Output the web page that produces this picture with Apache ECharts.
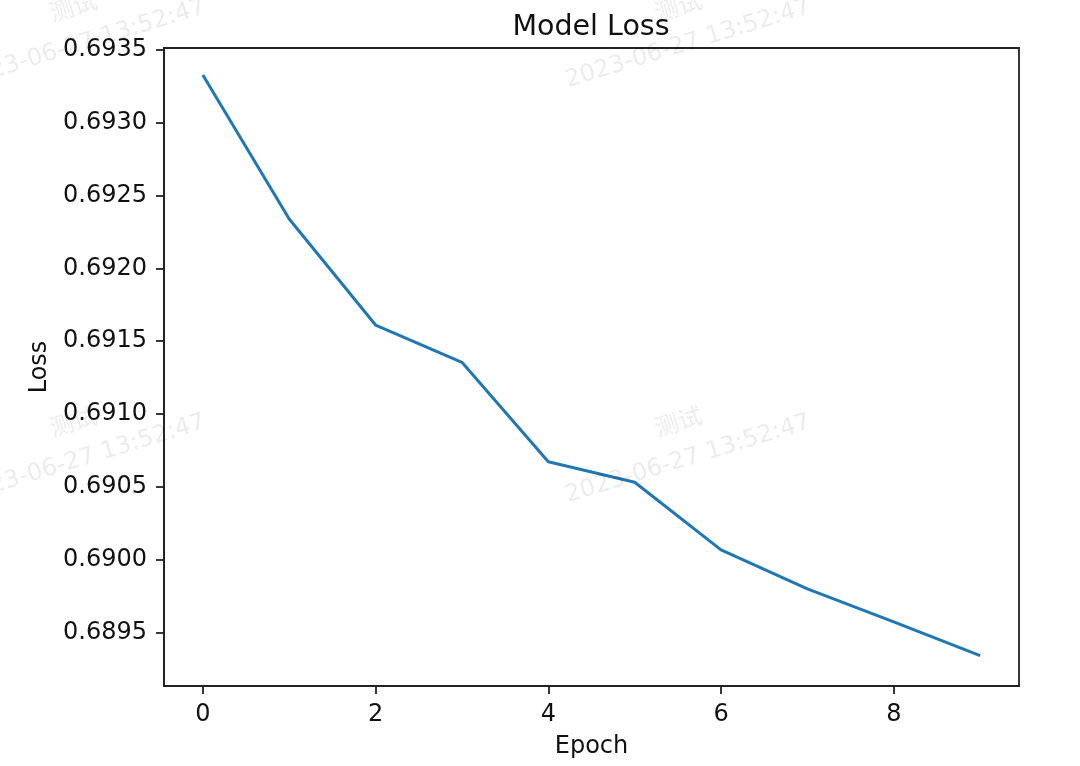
<!DOCTYPE html>
<html>
<head>
<meta charset="utf-8">
<script src="https://cdn.jsdelivr.net/npm/echarts@6/dist/echarts.min.js"></script>
<style>
html,body{margin:0;padding:0;background:#fff;}
#chart{width:1080px;height:766px;}
</style>
</head>
<body>
<div id="chart"></div>
<script>
const epochs = [0, 1, 2, 3, 4, 5, 6, 7, 8, 9];
const loss = [0.693328, 0.692339, 0.691611, 0.691355, 0.690672, 0.690531, 0.690066, 0.689798, 0.689571, 0.689339];
const xTicks = [0, 2, 4, 6, 8];
const yTicks = [0.6895, 0.6900, 0.6905, 0.6910, 0.6915, 0.6920, 0.6925, 0.6930, 0.6935];
const titleText = 'Model Loss';
const xName = 'Epoch';
const yName = 'Loss';
const wmName = '测试';
const wmDate = '2023-06-27 13:52:47';

const FONT = 'DejaVu Sans';
const chart = echarts.init(document.getElementById('chart'));

const wmPos = [[83, 44, 73, 6], [688, 44, 678, 6], [83, 459, 73, 421], [688, 459, 678, 421]];
const rot = 17 * Math.PI / 180;
const wmColor = 'rgba(0,0,0,0.08)';
const graphics = [];
wmPos.forEach(p => {
  graphics.push({type:'text', x:p[0], y:p[1], rotation:rot, z:100, silent:true,
    style:{text:wmDate, fill:wmColor, font:'24px "DejaVu Sans"', textAlign:'center', textVerticalAlign:'middle'}});
  graphics.push({type:'text', x:p[2], y:p[3], rotation:rot, z:100, silent:true,
    style:{text:wmName, fill:wmColor, font:'24px "Noto Sans CJK SC"', textAlign:'center', textVerticalAlign:'middle'}});
});

chart.setOption({
  animation: false,
  backgroundColor: '#fff',
  title: {
    text: titleText, left: 586, top: 8, textAlign: 'center',
    textStyle: {fontFamily: FONT, fontSize: 28.5, fontWeight: 'normal', color: '#111'}
  },
  grid: {left: 164, right: 61, top: 48, bottom: 80, show: true, borderColor: '#222', borderWidth: 1.8, backgroundColor: 'transparent'},
  xAxis: {
    type: 'value', min: -0.45, max: 9.45,
    name: xName, nameLocation: 'middle', nameGap: 49,
    nameTextStyle: {fontFamily: FONT, fontSize: 24, color: '#111'},
    axisLine: {show: true, onZero: false, lineStyle: {color: '#222', width: 1.8}},
    axisTick: {show: true, length: 8, customValues: xTicks, lineStyle: {color: '#222', width: 1.8}},
    axisLabel: {customValues: xTicks, margin: 17, fontFamily: FONT, fontSize: 24, color: '#111'},
    splitLine: {show: false}
  },
  yAxis: {
    type: 'value', min: 0.689131, max: 0.693514,
    name: yName, nameLocation: 'middle', nameGap: 108,
    nameTextStyle: {fontFamily: FONT, fontSize: 24, color: '#111'},
    axisLine: {show: true, onZero: false, lineStyle: {color: '#222', width: 1.8}},
    axisTick: {show: true, length: 8, customValues: yTicks, lineStyle: {color: '#222', width: 1.8}},
    axisLabel: {customValues: yTicks, margin: 17, fontFamily: FONT, fontSize: 24, color: '#111',
      formatter: v => v.toFixed(4)},
    splitLine: {show: false}
  },
  series: [{
    type: 'line',
    data: epochs.map((e, i) => [e, loss[i]]),
    showSymbol: false,
    lineStyle: {color: '#1f77b4', width: 3},
    itemStyle: {color: '#1f77b4'}
  }],
  graphic: graphics
});
</script>
</body>
</html>
